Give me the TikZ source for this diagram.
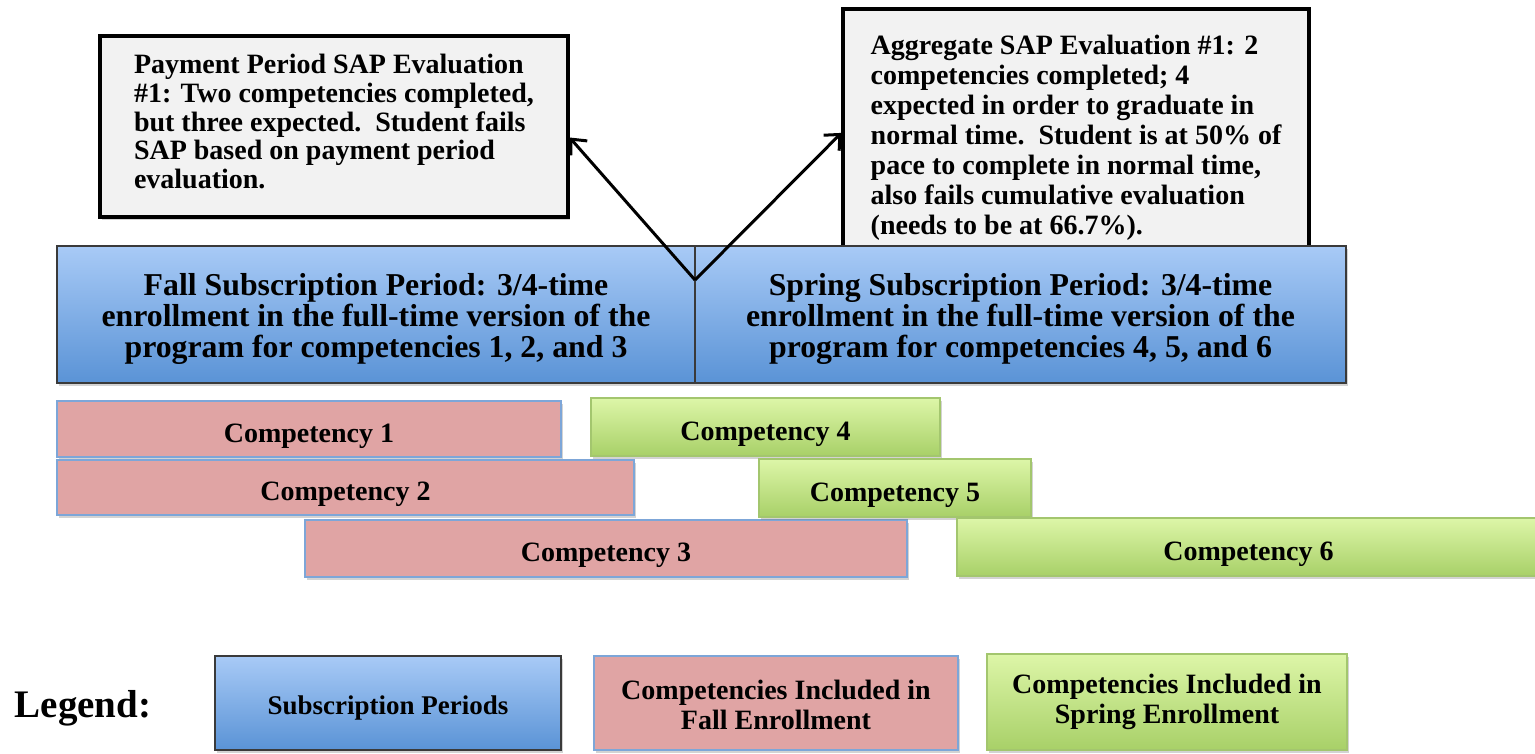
\documentclass[tikz,border=0pt]{standalone}
\usepackage{fontspec}
\setmainfont{Liberation Serif}
\usetikzlibrary{shadows,arrows.meta}
\definecolor{evalfill}{HTML}{F2F2F2}
\definecolor{blueTop}{HTML}{A8CAF6}
\definecolor{blueBot}{HTML}{5A93D6}
\definecolor{pinkFill}{HTML}{E0A4A4}
\definecolor{pinkLine}{HTML}{7DA6D8}
\definecolor{greenTop}{HTML}{DDF6A8}
\definecolor{greenBot}{HTML}{A8D068}
\definecolor{greenLine}{HTML}{A3C66E}
\definecolor{periodLine}{HTML}{3A3A3A}
\tikzset{
  shadowed/.style={drop shadow={opacity=0.35,shadow xshift=1.2pt,shadow yshift=-1.5pt}},
  evalbox/.style={rectangle,draw=black,line width=1.6pt,fill=evalfill,inner sep=0pt,shadowed},
  evaltext/.style={inner sep=0pt,align=left,font=\bfseries\fontsize{14}{14.3}\selectfont},
  periodbox/.style={rectangle,draw=periodLine,line width=0.7pt,top color=blueTop,bottom color=blueBot,
    inner sep=0pt,shadowed},
  periodtext/.style={inner sep=0pt,align=center,font=\bfseries\fontsize{15.9}{15.6}\selectfont},
  fallbox/.style={rectangle,draw=pinkLine,line width=0.9pt,fill=pinkFill,inner sep=0pt,align=center,
    font=\bfseries\fontsize{14}{15}\selectfont,shadowed},
  springbox/.style={rectangle,draw=greenLine,line width=0.6pt,top color=greenTop,bottom color=greenBot,
    inner sep=0pt,align=center,font=\bfseries\fontsize{14}{15}\selectfont,shadowed},
  legtext/.style={inner sep=0pt,align=center,font=\bfseries\fontsize{14}{15}\selectfont},
  callout/.style={line width=1.5pt,-{Straight Barb[length=6pt,width=11pt,line width=1.5pt]}},
}
\newcommand{\lowr}[1]{\raisebox{-3pt}[8pt][1pt]{#1}}
\begin{document}
\begin{tikzpicture}[x=0.5pt,y=-0.5pt]
\useasboundingbox (0,0) rectangle (1535,754);
% evaluation boxes
\node[evalbox,minimum width=234pt,minimum height=90.5pt] (lefteval) at (334,126.5) {};
\node[evaltext] (lefteval-text) at ([yshift=2.5pt]lefteval.center)
{Payment Period SAP Evaluation\\
\#1: Two competencies completed,\\
but three expected.\ \ Student fails\\
SAP based on payment period\\
evaluation.};
\node[evalbox,minimum width=233pt,minimum height=121.5pt] (righteval) at (1076,130.5) {};
\node[evaltext,font=\bfseries\fontsize{14}{15}\selectfont] (righteval-text) at ([yshift=-3.5pt]righteval.center)
{Aggregate SAP Evaluation \#1: 2\\
competencies completed; 4\\
expected in order to graduate in\\
normal time.\ \ Student is at 50\% of\\
pace to complete in normal time,\\
also fails cumulative evaluation\\
(needs to be at 66.7\%).};
% subscription periods
\node[periodbox,minimum width=319pt,minimum height=68.5pt] (fall) at (376,314.5) {};
\node[periodtext] (fall-text) at ([yshift=-2.3pt]fall.center)
{Fall Subscription Period: 3/4-time\\
enrollment in the full-time version of the\\
program for competencies 1, 2, and 3};
\node[periodbox,minimum width=325.5pt,minimum height=68.5pt] (spring) at (1020.5,314.5) {};
\node[periodtext] (spring-text) at ([yshift=-2.3pt]spring.center)
{Spring Subscription Period: 3/4-time\\
enrollment in the full-time version of the\\
program for competencies 4, 5, and 6};
% callout arrows
\coordinate (v) at (695,280);
\draw[callout] (v) -- ([yshift=-5.5pt]lefteval.east);
\draw[callout] (v) -- ([yshift=-1.2pt]righteval.west);
% competencies
\node[fallbox,minimum width=252pt,minimum height=28pt] (c1) at (309,429) {\lowr{Competency 1}};
\node[fallbox,minimum width=288.5pt,minimum height=27.5pt] (c2) at (345.5,487.5) {\lowr{Competency 2}};
\node[fallbox,minimum width=301pt,minimum height=28.5pt] (c3) at (606,548.5) {\lowr{Competency 3}};
\node[springbox,minimum width=174.5pt,minimum height=29pt] (c4) at (765.5,427) {\lowr{Competency 4}};
\node[springbox,minimum width=136pt,minimum height=29pt] (c5) at (895,488) {\lowr{Competency 5}};
\node[springbox,minimum width=291.5pt,minimum height=29pt] (c6) at (1248.5,547) {\lowr{Competency 6}};
% legend
\node[font=\bfseries\fontsize{19.5}{20}\selectfont] (legend) at (83,708) {Legend:};
\node[periodbox,minimum width=173pt,minimum height=47pt] (lgblue) at (388,703) {};
\node[legtext,font=\bfseries\fontsize{13.5}{15}\selectfont] (lgblue-text) at ([yshift=-2.5pt]lgblue.center) {Subscription Periods};
\node[fallbox,minimum width=182pt,minimum height=47pt] (lgpink) at (776,703) {};
\node[legtext] (lgpink-text) at ([yshift=-1pt]lgpink.center) {Competencies Included in\\Fall Enrollment};
\node[springbox,minimum width=180pt,minimum height=48pt] (lggreen) at (1167,702) {};
\node[legtext] (lggreen-text) at ([yshift=0pt]lggreen.center) {Competencies Included in\\Spring Enrollment};
\end{tikzpicture}
\end{document}
